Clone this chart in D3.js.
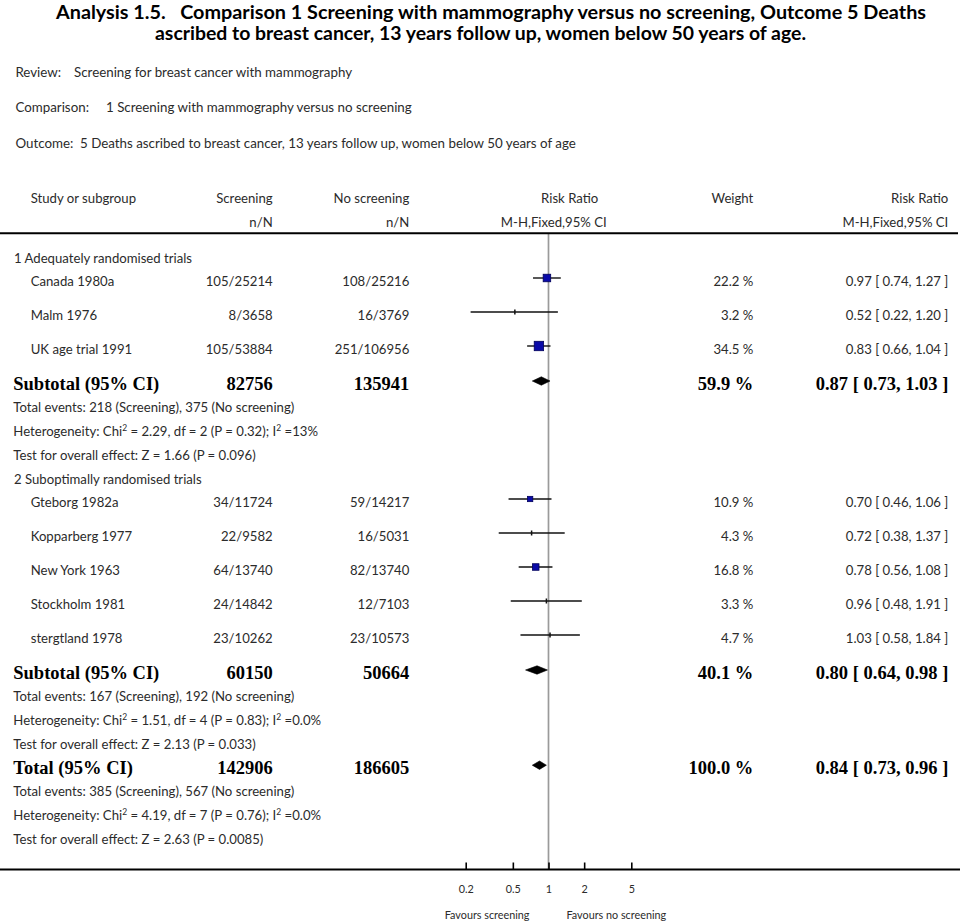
<!DOCTYPE html>
<html><head><meta charset="utf-8">
<script src="https://cdn.jsdelivr.net/npm/d3@7"></script>
<style>body{margin:0;background:#fff}</style>
</head><body><svg id="c" width="960" height="921"></svg>
<script>
// ---------------- DATA ----------------
const titleLines = [
  "Analysis 1.5.   Comparison 1 Screening with mammography versus no screening, Outcome 5 Deaths",
  "ascribed to breast cancer, 13 years follow up, women below 50 years of age."
];
const metaLabels = ["Review:", "Comparison:", "Outcome:"];
const metaValues = [
  "Screening for breast cancer with mammography",
  "1 Screening with mammography versus no screening",
  "5 Deaths ascribed to breast cancer, 13 years follow up, women below 50 years of age"
];
const headerTop = ["Study or subgroup", "Screening", "No screening", "Risk Ratio", "Weight", "Risk Ratio"];
const headerSub = ["n/N", "n/N", "M-H,Fixed,95% CI", "M-H,Fixed,95% CI"];
const groupNames = ["1 Adequately randomised trials", "2 Suboptimally randomised trials"];
const studyGroup = [0, 0, 0, 1, 1, 1, 1, 1];
const studyNames = ["Canada 1980a", "Malm 1976", "UK age trial 1991",
  "Gteborg 1982a", "Kopparberg 1977", "New York 1963", "Stockholm 1981", "stergtland 1978"];
const screenEvents = [105, 8, 105, 34, 22, 64, 24, 23];
const screenTotal = [25214, 3658, 53884, 11724, 9582, 13740, 14842, 10262];
const controlEvents = [108, 16, 251, 59, 16, 82, 12, 23];
const controlTotal = [25216, 3769, 106956, 14217, 5031, 13740, 7103, 10573];
const weights = [22.2, 3.2, 34.5, 10.9, 4.3, 16.8, 3.3, 4.7];
const rr = [0.97, 0.52, 0.83, 0.70, 0.72, 0.78, 0.96, 1.03];
const rrLow = [0.74, 0.22, 0.66, 0.46, 0.38, 0.56, 0.48, 0.58];
const rrHigh = [1.27, 1.20, 1.04, 1.06, 1.37, 1.08, 1.91, 1.84];

const summaryLabels = ["Subtotal (95% CI)", "Subtotal (95% CI)", "Total (95% CI)"];
const summaryScreenN = [82756, 60150, 142906];
const summaryControlN = [135941, 50664, 186605];
const summaryWeight = [59.9, 40.1, 100.0];
const summaryRR = [0.87, 0.80, 0.84];
const summaryLow = [0.73, 0.64, 0.73];
const summaryHigh = [1.03, 0.98, 0.96];
const summaryScreenEvents = [218, 167, 385];
const summaryControlEvents = [375, 192, 567];
const heteroChi = ["2.29", "1.51", "4.19"];
const heteroDf = [2, 4, 7];
const heteroP = ["0.32", "0.83", "0.76"];
const heteroI2 = ["13%", "0.0%", "0.0%"];
const effectZ = ["1.66", "2.13", "2.63"];
const effectP = ["0.096", "0.033", "0.0085"];

const axisTicks = [0.2, 0.5, 1, 2, 5];
const axisTickLabels = ["0.2", "0.5", "1", "2", "5"];
const favourLabels = ["Favours screening", "Favours no screening"];

// ---------------- LAYOUT / STYLE ----------------
const SANS = "Lato, 'Open Sans', sans-serif";
const SERIF = "'Liberation Serif', 'Times New Roman', serif";
const SX = 0.94;           // slight horizontal compression of the sans text
const textColor = "#2b2b2b";
const col = { name: 30.7, group: 14, screen: 272.7, control: 409.3, weight: 753.3, ci: 948.3 };

const svg = d3.select("#c");

const x = d3.scaleLog().domain([0.2, 5]).range([465.7, 631.3]);

function sans(x0, y0, str, anchor = "start", size = 14, weight = "normal", color = textColor) {
  return svg.append("text")
    .attr("transform", `translate(${x0},${y0}) scale(${SX},1)`)
    .attr("dy", "0.35em")
    .attr("text-anchor", anchor)
    .attr("font-family", SANS).attr("font-size", size).attr("font-weight", weight)
    .attr("fill", color)
    .text(str);
}
function serifB(x0, y0, str, anchor = "start", size = 18.5) {
  return svg.append("text")
    .attr("x", x0).attr("y", y0).attr("dy", "0.35em")
    .attr("text-anchor", anchor)
    .attr("font-family", SERIF).attr("font-size", size).attr("font-weight", "bold")
    .attr("fill", "#000")
    .text(str);
}
const fmt2 = d3.format(".2f");
const ciText = (m, l, h) => `${fmt2(m)} [ ${fmt2(l)}, ${fmt2(h)} ]`;

// Title
svg.append("text").attr("x", 491).attr("y", 12).attr("dy", "0.35em")
  .attr("text-anchor", "middle").attr("font-family", SANS).attr("font-weight", "bold")
  .attr("font-size", 19).attr("fill", "#000").attr("xml:space", "preserve")
  .attr("textLength", 870).attr("lengthAdjust", "spacingAndGlyphs").text(titleLines[0]);
svg.append("text").attr("x", 480.5).attr("y", 33).attr("dy", "0.35em")
  .attr("text-anchor", "middle").attr("font-family", SANS).attr("font-weight", "bold")
  .attr("font-size", 19).attr("fill", "#000")
  .attr("textLength", 651).attr("lengthAdjust", "spacingAndGlyphs").text(titleLines[1]);

// Meta lines
const metaY = [72.5, 107.5, 143.5];
const metaValX = [74, 106, 80];
metaLabels.forEach((l, i) => {
  sans(15.4, metaY[i], l, "start", 14.2);
  sans(metaValX[i], metaY[i], metaValues[i], "start", 14.2);
});

// Column headers
sans(col.name, 198, headerTop[0]);
sans(col.screen, 198, headerTop[1], "end");
sans(col.control, 198, headerTop[2], "end");
sans(598.3, 198, headerTop[3], "end");
sans(col.weight, 198, headerTop[4], "end");
sans(col.ci, 198, headerTop[5], "end");
sans(col.screen, 221.7, headerSub[0], "end");
sans(col.control, 221.7, headerSub[1], "end");
sans(606.7, 221.7, headerSub[2], "end");
sans(col.ci, 221.7, headerSub[3], "end");

// Build rows
const rows = [];
function addSummary(s) {
  rows.push({ kind: "summary", s });
  rows.push({ kind: "events", s });
  rows.push({ kind: "hetero", s });
  rows.push({ kind: "effect", s });
}
groupNames.forEach((g, gi) => {
  rows.push({ kind: "group", g: gi });
  studyNames.forEach((n, i) => { if (studyGroup[i] === gi) rows.push({ kind: "study", i }); });
  addSummary(gi);
});
addSummary(2);

const SMALL = 23.8, BIG = 34;
let yy = 257.7;
rows.forEach((r, k) => {
  if (k > 0) {
    const prev = rows[k - 1].kind;
    yy += ((r.kind === "study" || r.kind === "summary") && prev === "study") ? BIG : SMALL;
  }
  r.y = yy;
});

const topLineY = 233.3, axisY = 869.5;

// Line of no effect
svg.append("line").attr("x1", x(1)).attr("x2", x(1)).attr("y1", topLineY).attr("y2", axisY)
  .attr("stroke", "#9a9a9a").attr("stroke-width", 1.7);

// Header rule & axis rule
svg.append("line").attr("x1", 0).attr("x2", 958).attr("y1", topLineY).attr("y2", topLineY)
  .attr("stroke", "#000").attr("stroke-width", 2);
svg.append("line").attr("x1", 0).attr("x2", 960).attr("y1", axisY).attr("y2", axisY)
  .attr("stroke", "#000").attr("stroke-width", 2);

const MK = -3.5; // marker offset from text centre
rows.forEach(r => {
  if (r.kind === "group") {
    sans(col.group, r.y, groupNames[r.g]);
  } else if (r.kind === "study") {
    const i = r.i, my = r.y + MK;
    sans(col.name, r.y, studyNames[i]);
    sans(col.screen, r.y, `${screenEvents[i]}/${screenTotal[i]}`, "end");
    sans(col.control, r.y, `${controlEvents[i]}/${controlTotal[i]}`, "end");
    sans(col.weight, r.y, `${weights[i].toFixed(1)} %`, "end");
    sans(col.ci, r.y, ciText(rr[i], rrLow[i], rrHigh[i]), "end");
    svg.append("line").attr("x1", x(rrLow[i])).attr("x2", x(rrHigh[i]))
      .attr("y1", my).attr("y2", my).attr("stroke", "#111").attr("stroke-width", 1.4);
    const side = 1.6 * Math.sqrt(weights[i]);
    if (side < 4) {
      svg.append("rect").attr("x", x(rr[i]) - 0.75).attr("y", my - 2.5)
        .attr("width", 1.5).attr("height", 5).attr("fill", "#111");
    } else {
      svg.append("rect").attr("x", x(rr[i]) - side / 2).attr("y", my - side / 2)
        .attr("width", side).attr("height", side)
        .attr("fill", "#0a0aa8").attr("stroke", "#00005a").attr("stroke-width", 0.8);
    }
  } else if (r.kind === "summary") {
    const s = r.s, my = r.y + MK + 1;
    serifB(13.3, r.y, summaryLabels[s]);
    serifB(col.screen, r.y, String(summaryScreenN[s]), "end");
    serifB(col.control, r.y, String(summaryControlN[s]), "end");
    serifB(col.weight, r.y, `${summaryWeight[s].toFixed(1)} %`, "end");
    serifB(col.ci, r.y, ciText(summaryRR[s], summaryLow[s], summaryHigh[s]), "end");
    const hh = 4.2;
    const pts = [[x(summaryLow[s]), my], [x(summaryRR[s]), my - hh], [x(summaryHigh[s]), my], [x(summaryRR[s]), my + hh]];
    svg.append("path").attr("d", d3.line()(pts) + "Z").attr("fill", "#000")
      .attr("stroke", "#000").attr("stroke-width", 0.6);
  } else if (r.kind === "events") {
    const s = r.s;
    sans(13.3, r.y, `Total events: ${summaryScreenEvents[s]} (Screening), ${summaryControlEvents[s]} (No screening)`);
  } else if (r.kind === "hetero") {
    const s = r.s;
    const t = sans(13.3, r.y, "");
    t.append("tspan").text("Heterogeneity: Chi");
    t.append("tspan").attr("baseline-shift", "super").attr("font-size", 9).text("2");
    t.append("tspan").text(` = ${heteroChi[s]}, df = ${heteroDf[s]} (P = ${heteroP[s]}); I`);
    t.append("tspan").attr("baseline-shift", "super").attr("font-size", 9).text("2");
    t.append("tspan").text(` =${heteroI2[s]}`);
  } else if (r.kind === "effect") {
    const s = r.s;
    sans(13.3, r.y, `Test for overall effect: Z = ${effectZ[s]} (P = ${effectP[s]})`);
  }
});

// Axis
const axis = d3.axisBottom(x).tickValues(axisTicks)
  .tickFormat((d, i) => axisTickLabels[i]).tickSizeInner(-7).tickSizeOuter(0).tickPadding(15.5);
const ag = svg.append("g").attr("transform", `translate(0,${axisY})`).call(axis);
ag.select(".domain").remove();
ag.selectAll(".tick line").attr("stroke", "#000").attr("stroke-width", 1.6);
ag.selectAll(".tick text").attr("font-family", SANS).attr("font-size", 11.5)
  .attr("fill", textColor).attr("transform", `scale(${SX},1)`);
// Favours labels
sans(x(1) - 19, 915, favourLabels[0], "end", 11.5);
sans(x(1) + 18, 915, favourLabels[1], "start", 11.5);
</script></body></html>
